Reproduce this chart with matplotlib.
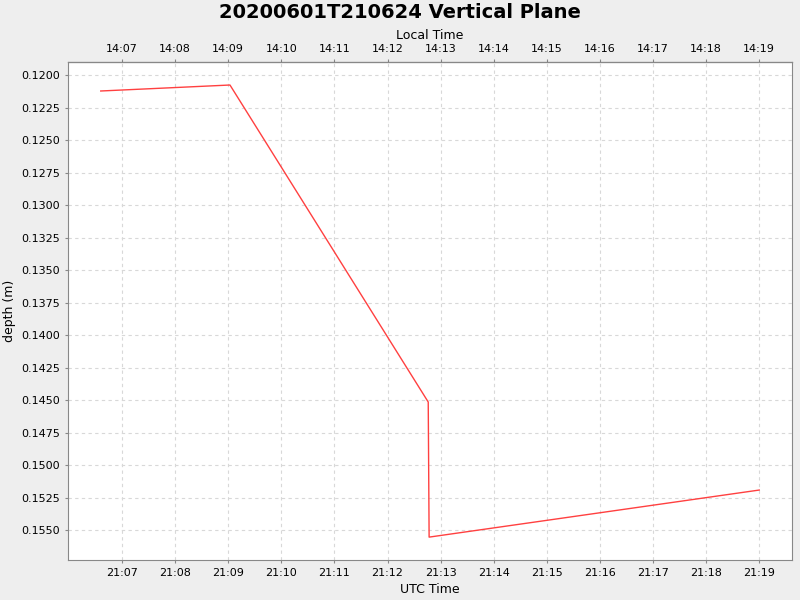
import matplotlib
matplotlib.use("Agg")
import matplotlib.pyplot as plt

# times as minutes after 21:00 UTC
times = [6 + 36/60, 9 + 2/60, 12 + 46/60, 12 + 47/60, 19.0]
depth = [0.12123, 0.12077, 0.14515, 0.15554, 0.15192]
tick_min = list(range(7, 20))
utc_labels = [f"21:{m:02d}" for m in tick_min]
local_labels = [f"14:{m:02d}" for m in tick_min]
y_ticks = [0.1200 + 0.0025 * i for i in range(15)]

fig = plt.figure(figsize=(8, 6), dpi=100, facecolor="#eeeeee")
ax = fig.add_axes([68/800, 40/600, 724/800, 498/600])
ax.set_facecolor("white")
ax.plot(times, depth, color="#ff4040", lw=1)
ax.set_xlim(5 + 59/60, 19 + 37/60)
ax.set_ylim(0.1573, 0.1190)
ax.set_xticks(tick_min)
ax.set_xticklabels(utc_labels, fontsize=8)
ax.set_yticks(y_ticks)
ax.set_yticklabels([f"{v:.4f}" for v in y_ticks], fontsize=8)
ax.grid(True, color="#d8d8d8", ls=(0, (3, 3)), lw=0.8)
ax.set_xlabel("UTC Time", fontsize=9)
ax.set_ylabel("depth (m)", fontsize=9)
for s in ax.spines.values():
    s.set_color("#888888")
ax.tick_params(length=2, color="#888888")

top = ax.secondary_xaxis("top")
top.set_xticks(tick_min)
top.set_xticklabels(local_labels, fontsize=8)
top.set_xlabel("Local Time", fontsize=9)
top.tick_params(length=2, color="#888888")

fig.suptitle("20200601T210624 Vertical Plane", fontsize=14, fontweight="bold", y=0.995)
fig.savefig("out.png", facecolor=fig.get_facecolor())
